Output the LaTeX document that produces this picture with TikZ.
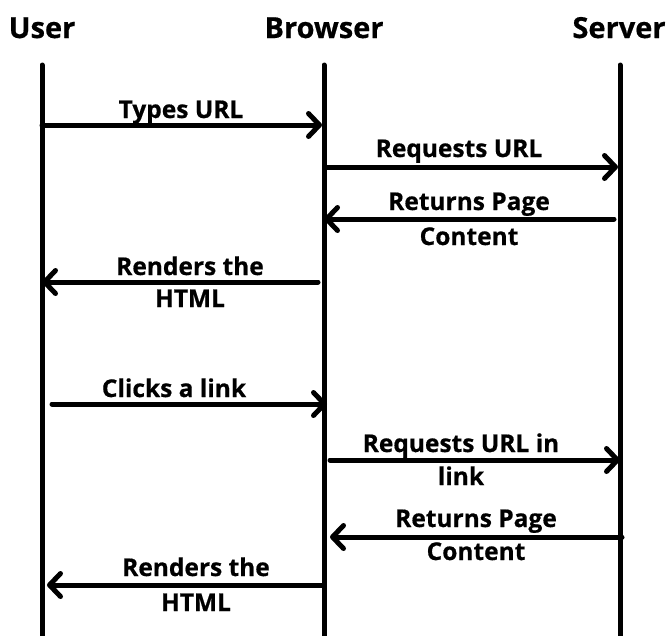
\documentclass[tikz,border=0pt]{standalone}
\usepackage{fontspec}
\setmainfont{Open Sans}[BoldFeatures={FakeBold=0.6}]
\usetikzlibrary{arrows.meta}
\begin{document}
\begin{tikzpicture}[x=1pt,y=-1pt,
  life/.style={line width=5pt,line cap=round},
  msg/.style={line width=5pt,line cap=round,-{Straight Barb[length=11pt,width=23pt,line cap=round,line join=round]}},
  head/.style={font=\bfseries\fontsize{29}{34}\selectfont,inner sep=0pt,anchor=base},
  lbl/.style={font=\bfseries\fontsize{24.5}{34}\selectfont,inner sep=0pt,anchor=base}]
\useasboundingbox (0,0) rectangle (668,635);
% headers
\node[head] (hu) at (42,38) {User};
\node[head] (hb) at (324,38) {Browser};
\node[head] (hs) at (619,38) {Server};
% lifelines
\coordinate (ut) at (42,65); \coordinate (ub) at (42,640);
\coordinate (bt) at (324,65); \coordinate (bb) at (324,640);
\coordinate (st) at (620,65); \coordinate (sb) at (620,640);
\draw[life] (ut) -- (ub);
\draw[life] (bt) -- (bb);
\draw[life] (st) -- (sb);
% message endpoints
\coordinate (m1a) at (42,125);  \coordinate (m1b) at (322,125);
\coordinate (m2a) at (326,167); \coordinate (m2b) at (618,167);
\coordinate (m3a) at (614,219); \coordinate (m3b) at (324,219);
\coordinate (m4a) at (318,282); \coordinate (m4b) at (42,282);
\coordinate (m5a) at (52,404);  \coordinate (m5b) at (327,404);
\coordinate (m6a) at (330,460); \coordinate (m6b) at (620,460);
\coordinate (m7a) at (622,537); \coordinate (m7b) at (330,537);
\coordinate (m8a) at (324,585); \coordinate (m8b) at (47,585);
\draw[msg] (m1a) -- (m1b);
\draw[msg] (m2a) -- (m2b);
\draw[msg] (m3a) -- (m3b);
\draw[msg] (m4a) -- (m4b);
\draw[msg] (m5a) -- (m5b);
\draw[msg] (m6a) -- (m6b);
\draw[msg] (m7a) -- (m7b);
\draw[msg] (m8a) -- (m8b);
% labels
\node[lbl] (l1) at (181,118) {Types URL};
\node[lbl] (l2) at (459,157) {Requests URL};
\node[lbl] (l3a) at (469,210) {Returns Page};
\node[lbl] (l3b) at (469,245) {Content};
\node[lbl] (l4a) at (190,275) {Renders the};
\node[lbl] (l4b) at (190,307) {HTML};
\node[lbl] (l5) at (174,397) {Clicks a link};
\node[lbl] (l6a) at (461,452) {Requests URL in};
\node[lbl] (l6b) at (461,485) {link};
\node[lbl] (l7a) at (476,527) {Returns Page};
\node[lbl] (l7b) at (476,560) {Content};
\node[lbl] (l8a) at (196,576) {Renders the};
\node[lbl] (l8b) at (196,611) {HTML};
\end{tikzpicture}
\end{document}
